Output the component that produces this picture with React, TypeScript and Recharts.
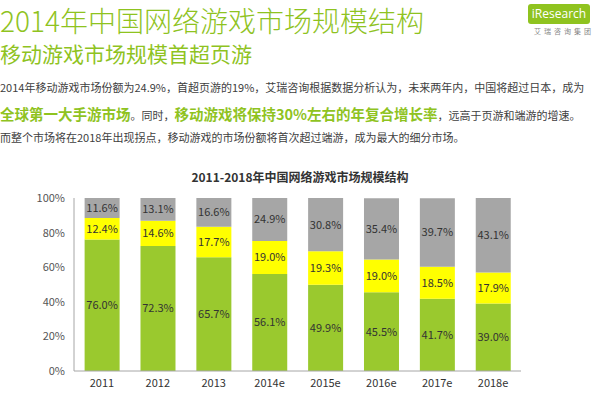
import React from 'react';
import { BarChart, Bar, XAxis, YAxis, LabelList } from 'recharts';

const years = ['2011', '2012', '2013', '2014e', '2015e', '2016e', '2017e', '2018e'];
// 端游 / 页游 / 移动游戏, share of market in %
const clientGame = [76.0, 72.3, 65.7, 56.1, 49.9, 45.5, 41.7, 39.0];
const webGame = [12.4, 14.6, 17.7, 19.0, 19.3, 19.0, 18.5, 17.9];
const mobileGame = [11.6, 13.1, 16.6, 24.9, 30.8, 35.4, 39.7, 43.1];
const yTicks = [0, 20, 40, 60, 80, 100];

const data = years.map((year, i) => ({
  year,
  client: clientGame[i],
  web: webGame[i],
  mobile: mobileGame[i]
}));

const FONT = '"Noto Sans CJK SC", "Noto Sans", sans-serif';
const GREEN = '#8fc31f';
const TEXT = '#404040';
const AXIS = '#a6a6a6';

const pct = (v: any) => `${Number(v).toFixed(1)}%`;

const line = (top: number, size: number): React.CSSProperties => ({
  position: 'absolute',
  left: 0,
  top: top - size / 2,
  height: size,
  lineHeight: `${size}px`,
  fontSize: size,
  whiteSpace: 'nowrap'
});

const hl: React.CSSProperties = { color: GREEN, fontWeight: 700, fontSize: 14.5 };

export default function App() {
  const labelStyle = { fill: '#333', fontSize: 11, fontFamily: FONT };
  return (
    <div
      style={{
        position: 'absolute',
        left: 0,
        top: 0,
        width: 600,
        height: 393,
        overflow: 'hidden',
        background: '#fff',
        fontFamily: FONT,
        color: TEXT
      }}
    >
      <div style={{ position: 'absolute', left: 0, top: 3, height: 34, lineHeight: '34px', fontSize: 28, whiteSpace: 'nowrap', color: GREEN, fontWeight: 300 }}>
        2014年中国网络游戏市场规模结构
      </div>
      <div style={{ ...line(53, 21), color: GREEN }}>移动游戏市场规模首超页游</div>

      <div style={{ position: 'absolute', left: 528, top: 4, width: 62, height: 20, background: GREEN, borderRadius: 3, color: '#fff', fontSize: 12, lineHeight: '20px', textAlign: 'center', fontFamily: '"Open Sans", sans-serif' }}>
        iResearch
      </div>
      <div style={{ position: 'absolute', left: 534, top: 27, fontSize: 7, lineHeight: '8px', color: '#888', letterSpacing: 3 }}>艾瑞咨询集团</div>

      <div style={{ ...line(87, 11) }}>
        2014年移动游戏市场份额为24.9%，首超页游的19%，艾瑞咨询根据数据分析认为，未来两年内，中国将超过日本，成为
      </div>
      <div style={{ ...line(113, 11) }}>
        <span style={hl}>全球第一大手游市场</span>。同时，<span style={hl}>移动游戏将保持30%左右的年复合增长率</span>，远高于页游和端游的增速。
      </div>
      <div style={{ ...line(137, 11) }}>
        而整个市场将在2018年出现拐点，移动游戏的市场份额将首次超过端游，成为最大的细分市场。
      </div>

      <div style={{ position: 'absolute', left: 0, width: 600, top: 170, textAlign: 'center', fontSize: 12, fontWeight: 700, color: '#333', lineHeight: '14px' }}>
        2011-2018年中国网络游戏市场规模结构
      </div>

      <div style={{ position: 'absolute', left: 0, top: 0 }}>
        <BarChart
          width={600}
          height={393}
          data={data}
          margin={{ top: 198, right: 79, bottom: 0, left: 34 }}
          barCategoryGap="19%"
        >
          <XAxis
            dataKey="year"
            height={22}
            axisLine={{ stroke: AXIS }}
            tickLine={false}
            tickSize={0}
            tickMargin={8}
            tick={{ fill: '#333', fontSize: 11, fontFamily: FONT }}
          />
          <XAxis xAxisId="top" dataKey="year" orientation="top" height={0} tick={false} tickLine={false} axisLine={{ stroke: AXIS }} />
          <YAxis
            width={40}
            type="number"
            domain={[0, 100]}
            ticks={yTicks}
            allowDataOverflow
            tickFormatter={(v: number) => `${v}%`}
            axisLine={{ stroke: AXIS }}
            tickLine={false}
            tickSize={0}
            tickMargin={9}
            tick={{ fill: '#555', fontSize: 11, fontFamily: FONT }}
          />
          <YAxis yAxisId="right" orientation="right" width={0} type="number" domain={[0, 100]} tick={false} tickLine={false} axisLine={{ stroke: AXIS }} />
          <Bar dataKey="client" stackId="s" fill="#9ac92e" isAnimationActive={false}>
            <LabelList dataKey="client" position="center" formatter={pct} style={labelStyle} />
          </Bar>
          <Bar dataKey="web" stackId="s" fill="#ffff00" isAnimationActive={false}>
            <LabelList dataKey="web" position="center" formatter={pct} style={labelStyle} />
          </Bar>
          <Bar dataKey="mobile" stackId="s" fill="#a6a6a6" isAnimationActive={false}>
            <LabelList dataKey="mobile" position="center" formatter={pct} style={labelStyle} />
          </Bar>
        </BarChart>
      </div>
    </div>
  );
}
